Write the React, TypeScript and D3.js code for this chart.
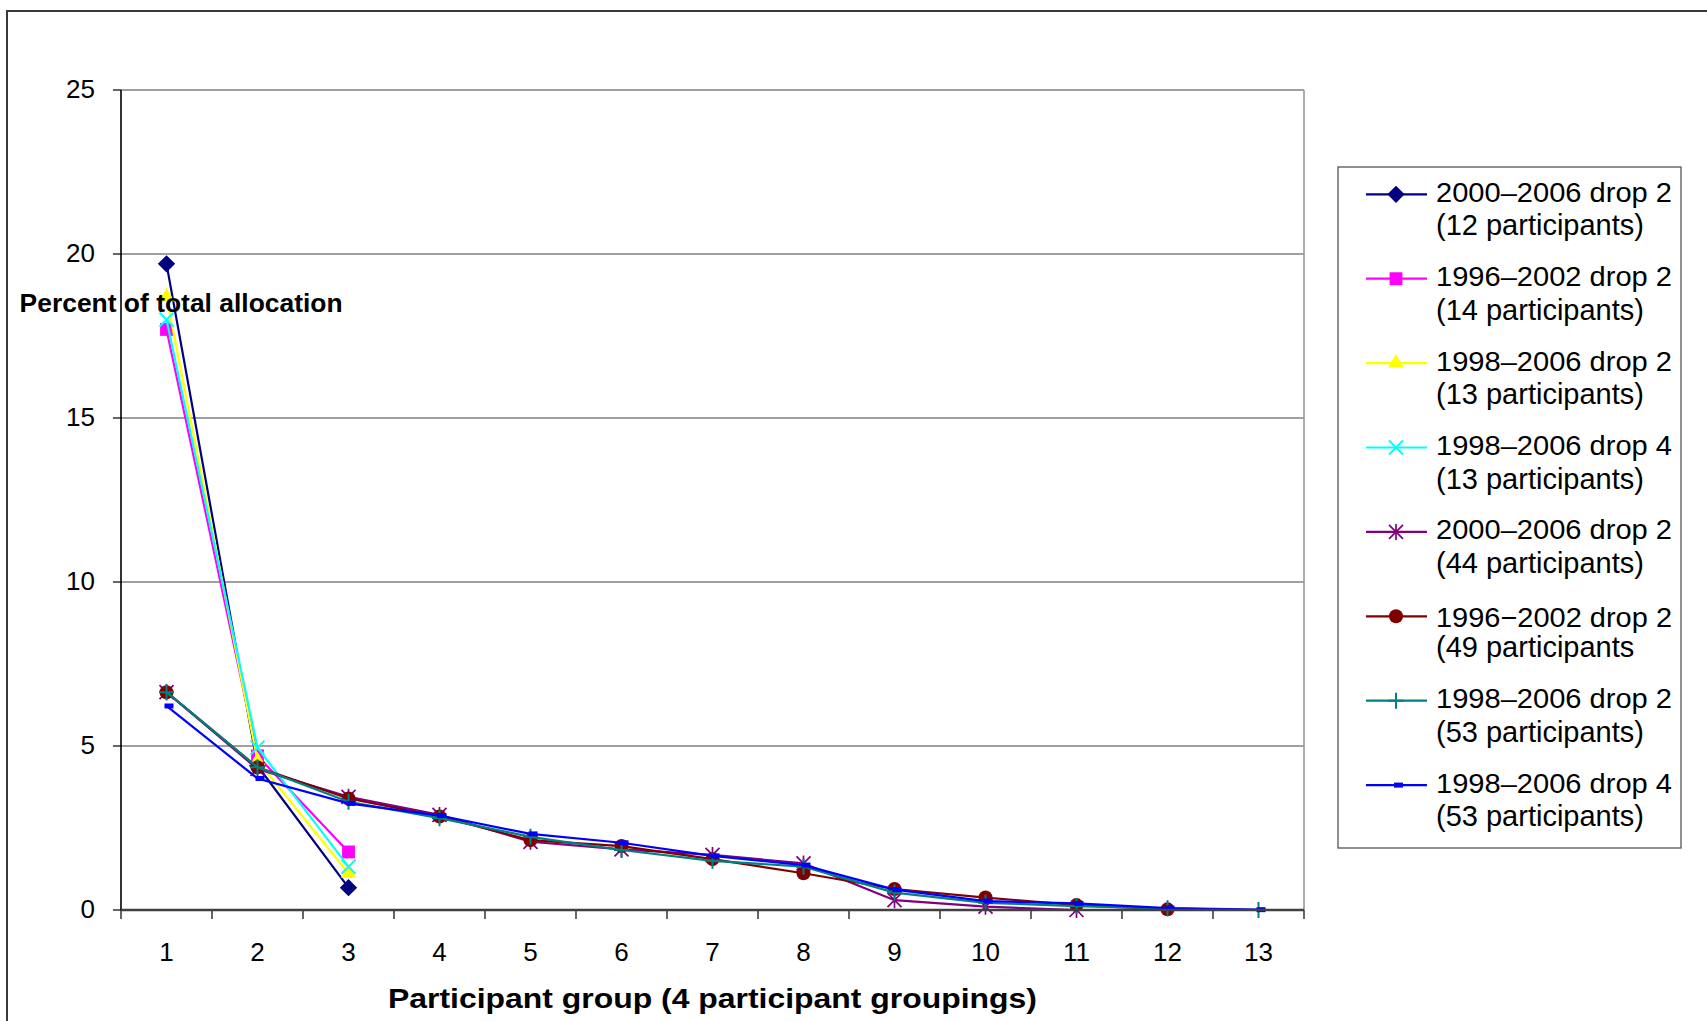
import React from 'react';
import * as d3 from 'd3';

const categories = [1, 2, 3, 4, 5, 6, 7, 8, 9, 10, 11, 12, 13];
const yTicks = [0, 5, 10, 15, 20, 25];

const s2000d2_12 = [19.7, 4.4, 0.68];
const s1996d2_14 = [17.7, 4.7, 1.77];
const s1998d2_13 = [18.7, 4.55, 1.12];
const s1998d4_13 = [18.0, 4.95, 1.32];
const s2000d2_44 = [6.64, 4.3, 3.45, 2.9, 2.08, 1.85, 1.68, 1.42, 0.3, 0.1, 0.0];
const s1996d2_49 = [6.64, 4.35, 3.4, 2.85, 2.13, 1.95, 1.55, 1.12, 0.64, 0.38, 0.15, 0.02];
const s1998d2_53 = [6.64, 4.35, 3.3, 2.8, 2.23, 1.83, 1.5, 1.32, 0.53, 0.22, 0.12, 0.05, 0.0];
const s1998d4_53 = [6.22, 4.01, 3.25, 2.88, 2.32, 2.05, 1.65, 1.37, 0.62, 0.27, 0.2, 0.06, 0.01];

const seriesValues = [s2000d2_12, s1996d2_14, s1998d2_13, s1998d4_13, s2000d2_44, s1996d2_49, s1998d2_53, s1998d4_53];
const seriesLine1 = [
  '2000\u20132006 drop 2',
  '1996\u20132002 drop 2',
  '1998\u20132006 drop 2',
  '1998\u20132006 drop 4',
  '2000\u20132006 drop 2',
  '1996\u22122002 drop 2',
  '1998\u20132006 drop 2',
  '1998\u20132006 drop 4',
];
const seriesLine2 = [
  '(12 participants)',
  '(14 participants)',
  '(13 participants)',
  '(13 participants)',
  '(44 participants)',
  '(49 participants',
  '(53 participants)',
  '(53 participants)',
];
const seriesColors = ['#000080', '#FF00FF', '#FFFF00', '#00FFFF', '#800080', '#800000', '#008080', '#0000FF'];
const seriesMarkers = ['diamond', 'square', 'triangle', 'x', 'asterisk', 'circle', 'plus', 'dash'];

const yAxisLabel = 'Percent of total allocation';
const xAxisLabel = 'Participant group (4 participant groupings)';

const W = 1707;
const H = 1021;
const FONT = '"Liberation Sans", Arial, Helvetica, sans-serif';

function Marker({ type, color, cx, cy }: { type: string; color: string; cx: number; cy: number }) {
  const t = `translate(${cx},${cy})`;
  switch (type) {
    case 'diamond':
      return <path d={d3.symbol(d3.symbolSquare, 150)() as string} fill={color} transform={`${t} rotate(45)`} />;
    case 'square':
      return <path transform={t} d={d3.symbol(d3.symbolSquare, 165)() as string} fill={color} />;
    case 'triangle':
      return <path transform={t} d={d3.symbol(d3.symbolTriangle, 105)() as string} fill={color} />;
    case 'x':
      return <path transform={t} d="M-7,-7L7,7M-7,7L7,-7" stroke={color} strokeWidth={2} fill="none" />;
    case 'asterisk':
      return <path transform={t} d="M-7,-7L7,7M-7,7L7,-7M0,-8L0,8" stroke={color} strokeWidth={1.7} fill="none" />;
    case 'circle':
      return <circle cx={cx} cy={cy} r={7} fill={color} />;
    case 'plus':
      return <path transform={t} d="M-7.5,0L7.5,0M0,-8L0,8" stroke={color} strokeWidth={2} fill="none" />;
    case 'dash':
      return <rect x={cx - 2} y={cy - 2.5} width={9} height={5} fill={color} />;
    default:
      return null;
  }
}

export default function App() {
  const plotLeft = 121;
  const plotRight = 1304;
  const plotTop = 90;
  const plotBottom = 910;

  const x = d3.scaleLinear().domain([0.5, categories.length + 0.5]).range([plotLeft, plotRight]);
  const y = d3.scaleLinear().domain([0, 25]).range([plotBottom, plotTop]);

  const line = d3
    .line<number>()
    .x((_, i) => x(categories[i]))
    .y((d) => y(d));

  const boundaries = d3.range(0, categories.length + 1).map((i) => i + 0.5);

  const legendX = 1338;
  const legendY = 167;
  const legendW = 343;
  const legendH = 681;
  const entryY0 = 194.3;
  const entryStep = 84.4;

  return (
    <svg
      width={W}
      height={H}
      style={{ position: 'absolute', left: 0, top: 0, display: 'block', background: '#fff' }}
      fontFamily={FONT}
    >
      <rect x={0} y={0} width={W} height={H} fill="#fff" />
      {/* outer chart frame */}
      <rect x={7} y={11} width={W} height={H} fill="none" stroke="#3a3a3a" strokeWidth={2} />

      {/* gridlines */}
      {yTicks.filter((v) => v > 0).map((v) => (
        <line key={v} x1={plotLeft} x2={plotRight} y1={y(v)} y2={y(v)} stroke="#808080" strokeWidth={1.6} />
      ))}
      {/* right plot border */}
      <line x1={plotRight} x2={plotRight} y1={plotTop} y2={plotBottom} stroke="#999" strokeWidth={1.6} />

      {/* y axis */}
      <line x1={plotLeft} x2={plotLeft} y1={plotTop} y2={plotBottom} stroke="#000" strokeWidth={1.6} />
      {yTicks.map((v) => (
        <g key={v}>
          <line x1={plotLeft - 8} x2={plotLeft} y1={y(v)} y2={y(v)} stroke="#000" strokeWidth={1.2} />
          <text x={95} y={y(v) + 7.5} textAnchor="end" fontSize={26} fill="#000">
            {v}
          </text>
        </g>
      ))}

      {/* x axis */}
      {boundaries.map((b) => (
        <line key={b} x1={x(b)} x2={x(b)} y1={plotBottom} y2={plotBottom + 9} stroke="#000" strokeWidth={1.2} />
      ))}
      {categories.map((c) => (
        <text key={c} x={x(c)} y={961} textAnchor="middle" fontSize={26} fill="#000">
          {c}
        </text>
      ))}

      {/* series */}
      {seriesValues.map((vals, si) => (
        <g key={si}>
          <path d={line(vals) as string} fill="none" stroke={seriesColors[si]} strokeWidth={2.2} />
          {vals.map((v, i) => (
            <Marker key={i} type={seriesMarkers[si]} color={seriesColors[si]} cx={x(categories[i])} cy={y(v)} />
          ))}
        </g>
      ))}

      <line x1={plotLeft} x2={plotRight} y1={plotBottom} y2={plotBottom} stroke="#404040" strokeWidth={2.4} />

      {/* axis titles */}
      <text x={19.6} y={311.5} fontSize={26.6} fontWeight="bold" fill="#000" textLength={323} lengthAdjust="spacingAndGlyphs">
        {yAxisLabel}
      </text>
      <text
        x={(plotLeft + plotRight) / 2}
        y={1008}
        textAnchor="middle"
        fontSize={28.5}
        fontWeight="bold"
        fill="#000"
        textLength={649}
        lengthAdjust="spacingAndGlyphs"
      >
        {xAxisLabel}
      </text>

      {/* legend */}
      <rect x={legendX} y={legendY} width={legendW} height={legendH} fill="#fff" stroke="#555" strokeWidth={1.3} />
      {seriesLine1.map((name, i) => {
        const ly = entryY0 + i * entryStep;
        const off = i === 5 ? 3 : 0;
        return (
          <g key={i}>
            <line x1={1366} x2={1427} y1={ly} y2={ly} stroke={seriesColors[i]} strokeWidth={2.2} />
            <Marker type={seriesMarkers[i]} color={seriesColors[i]} cx={1396} cy={ly} />
            <text x={1436} y={ly + 7.5 + off} fontSize={28} fill="#000" textLength={236} lengthAdjust="spacingAndGlyphs">
              {name}
            </text>
            <text x={1436} y={ly + 41} fontSize={29} fill="#000">
              {seriesLine2[i]}
            </text>
          </g>
        );
      })}
    </svg>
  );
}
